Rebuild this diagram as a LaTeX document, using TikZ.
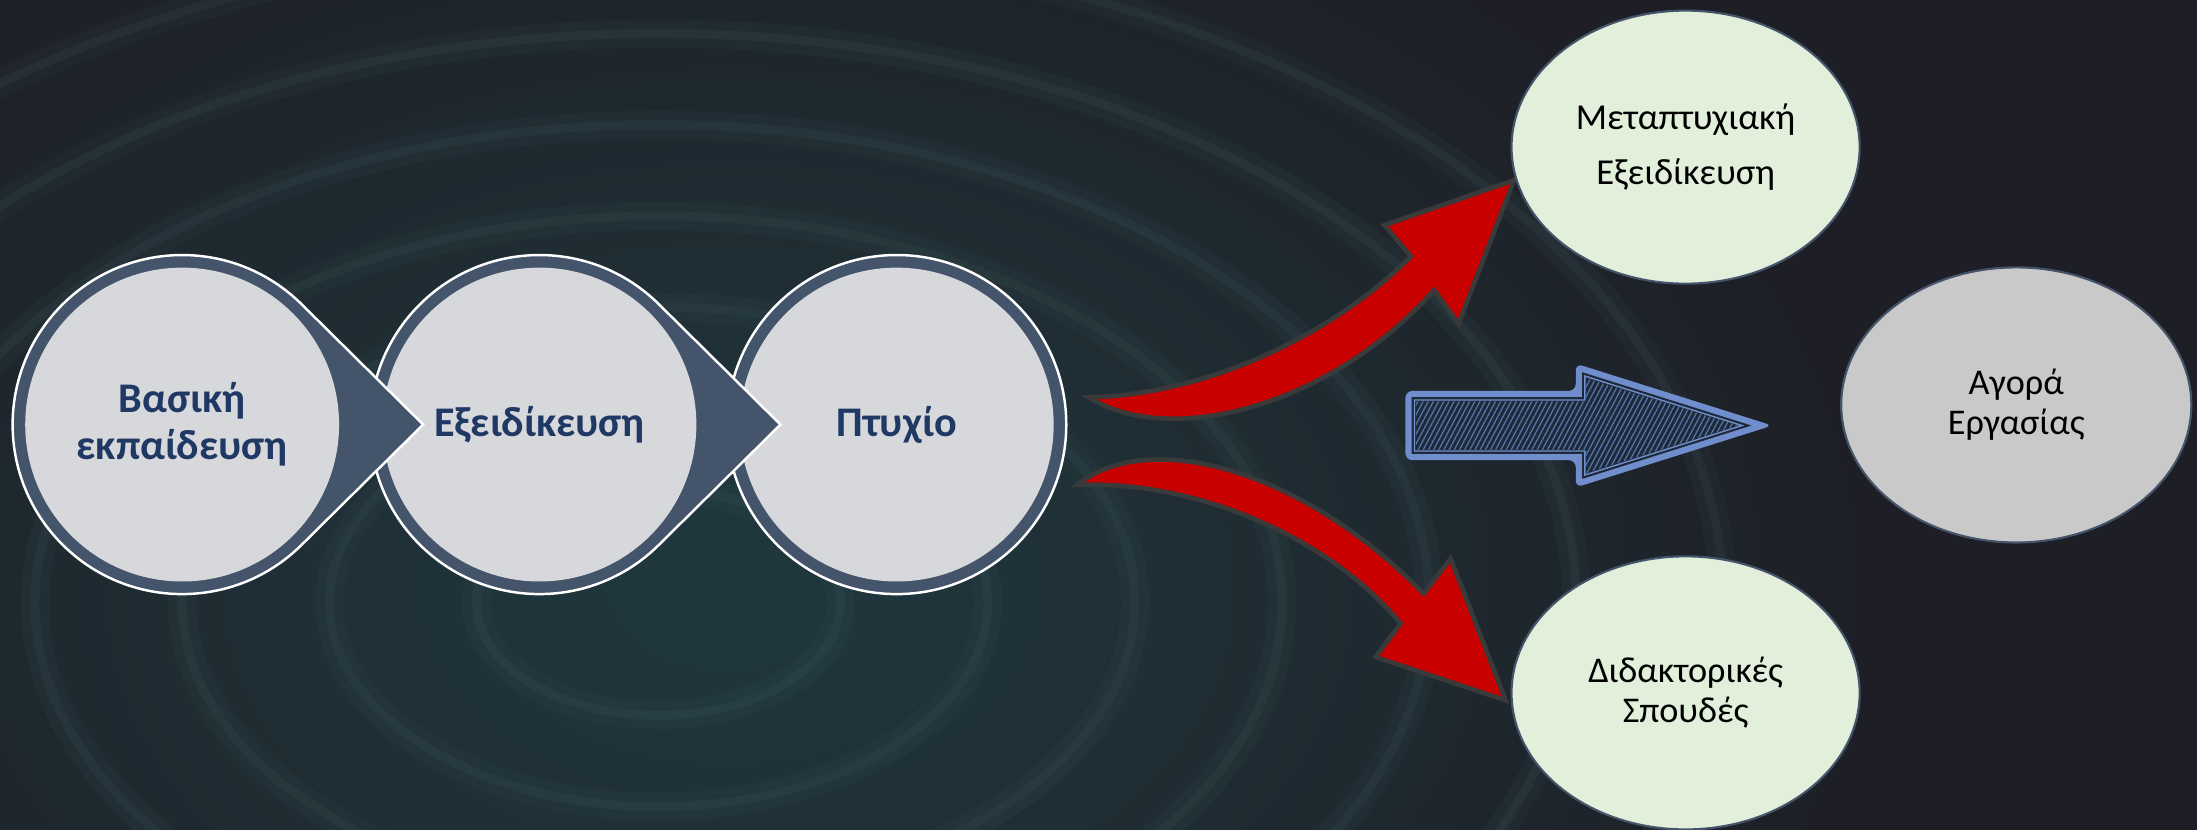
\documentclass[tikz,border=0pt]{standalone}
\usepackage{fontspec}
\setmainfont{Carlito}
\usepackage{tikz}
\usetikzlibrary{shapes.geometric,patterns.meta}
\definecolor{bgdark}{RGB}{30,31,38}
\definecolor{bgteal}{RGB}{31,56,62}
\definecolor{ripple}{RGB}{72,100,104}
\definecolor{slate}{RGB}{68,84,106}
\definecolor{stagegray}{RGB}{215,216,219}
\definecolor{stagetext}{RGB}{31,56,100}
\definecolor{paleleaf}{RGB}{226,239,218}
\definecolor{marketgray}{RGB}{201,201,201}
\definecolor{arrowred}{RGB}{200,0,0}
\definecolor{arrowrim}{RGB}{58,58,58}
\definecolor{hatchblue}{RGB}{88,118,170}
\definecolor{hatchdark}{RGB}{30,42,58}
\definecolor{rimblue}{RGB}{112,142,205}

\begin{document}
\begin{tikzpicture}[x=0.014011cm,y=-0.014011cm,
    stagering/.style={fill=slate,draw=white,line width=0.7pt},
    stagecore/.style={fill=stagegray},
    stagelabel/.style={text=stagetext,align=center,
        font=\fontsize{12}{13.3}\selectfont\bfseries},
    goal/.style={ellipse,draw=slate,line width=0.6pt,fill=paleleaf,
        inner sep=0pt,minimum width=3.48cm,minimum height=2.73cm,align=center},
    bigarrow/.style={fill=arrowred,draw=arrowrim,line width=1.3pt}]
                \useasboundingbox (0,0) rectangle (1568,591.65);
                \clip (-6,-6) rectangle (1574,598);
                % Background with ripples
                \fill[bgdark] (-6,-6) rectangle (1574,598);
                \shade[inner color=bgteal,outer color=bgdark]
                    (520,420) ellipse[x radius=820, y radius=560];
                \foreach \r in {130,235,340,445,550,655,760} {
                    \draw[ripple,line width=8pt,opacity=0.09] (470,430) ellipse[x radius=\r, y radius=0.62*\r];
                    \draw[ripple,line width=2.5pt,opacity=0.14] (470,430) ellipse[x radius=\r, y radius=0.62*\r];
                }
                % Stages, last one first
                \path[stagering] (640,303) circle[radius=121];
                \fill[stagecore] (640,303) circle[radius=112];
                \node[stagelabel] (degree) at (640,303) {Πτυχίο};
                \path[stagering] (557,303) -- (470.1,217)
                    arc[start angle=-45.3, end angle=-314.7, radius=121] -- cycle;
                \fill[stagecore] (385,303) circle[radius=112];
                \node[stagelabel] (special) at (385,303) {Εξειδίκευση};
                \path[stagering] (302,303) -- (215.1,217)
                    arc[start angle=-45.3, end angle=-314.7, radius=121] -- cycle;
                \fill[stagecore] (130,303) circle[radius=112];
                \node[stagelabel] (basic) at (130,303) {Βασική\\εκπαίδευση};
                % Red curved arrows
                \path[bigarrow] (777,283.5) .. controls (835,320) and (950,290) .. (1023.5,207)
                    -- (1041,231) -- (1080.5,128.6) -- (988,160.7) -- (1007,183)
                    .. controls (950,240) and (860,282) .. (777,283.5) -- cycle;
                \path[bigarrow] (769,346) .. controls (820,305) and (930,335) .. (1016,423.6)
                    -- (1035.3,398.6) -- (1074.6,499.8) -- (981.7,468.9) -- (999.6,445)
                    .. controls (950,385) and (857,343) .. (769,346) -- cycle;
                % Hatched arrow
                \fill[rimblue,rounded corners=2pt] (1003,279) -- (1124.6,279) -- (1124.6,259.5)
                    -- (1265,303.7) -- (1124.6,347.9) -- (1124.6,328.4) -- (1003,328.4) -- cycle;
                \fill[hatchdark] (1007.5,283.5) -- (1129.1,283.5) -- (1129.1,265.6) -- (1250,303.7)
                    -- (1129.1,341.8) -- (1129.1,323.9) -- (1007.5,323.9) -- cycle;
                \filldraw[fill=hatchdark,draw=rimblue,line width=0.4pt] (1009.5,285.5) -- (1131.1,285.5)
                    -- (1131.1,268.4) -- (1243.3,303.7) -- (1131.1,339) -- (1131.1,321.9) -- (1009.5,321.9) -- cycle;
                \fill[pattern={Lines[angle=62,distance=1.3pt,line width=0.35pt]},pattern color=hatchblue]
                    (1010.5,286.5) -- (1131.6,286.5) -- (1131.6,269.8) -- (1240.5,303.7) -- (1131.6,337.6)
                    -- (1131.6,320.9) -- (1010.5,320.9) -- cycle;
                % Goals
                \node[goal,font=\fontsize{10.4}{15.5}\selectfont] (master) at (1203,105)
                    {Μεταπτυχιακή\\Εξειδίκευση};
                \node[goal,font=\fontsize{10.3}{11.4}\selectfont] (phd) at (1203,494.5)
                    {Διδακτορικές\\Σπουδές};
                \node[goal,fill=marketgray,minimum width=3.50cm,minimum height=2.75cm,
                    font=\fontsize{10.3}{11.4}\selectfont] (market) at (1439,289) {Αγορά\\Εργασίας};
            \end{tikzpicture}
\end{document}
